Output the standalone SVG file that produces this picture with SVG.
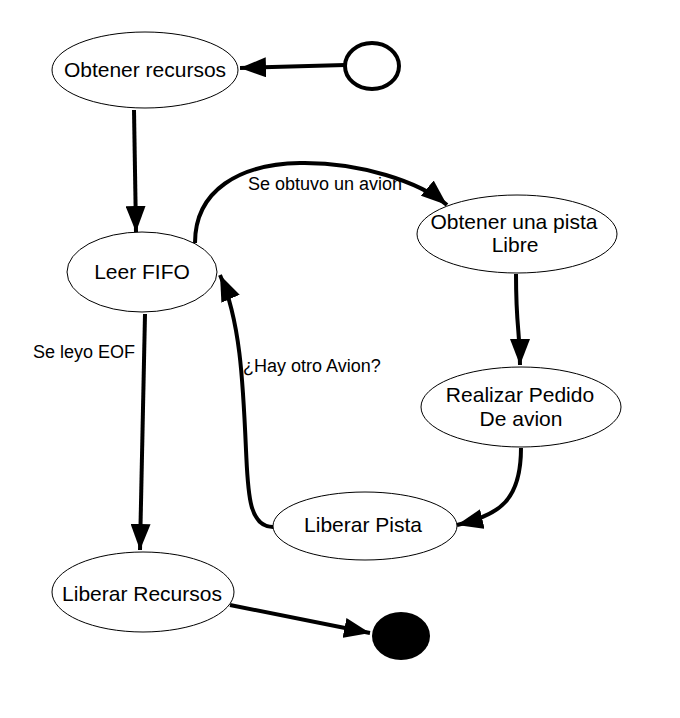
<svg xmlns="http://www.w3.org/2000/svg" width="680" height="718" viewBox="0 0 680 718">
<defs>
<style>
.node{fill:#fff;stroke:#000;stroke-width:1}
.t{font-family:"Liberation Sans",Arial,sans-serif;font-size:21px;fill:#000;text-anchor:middle}
.lbl{font-family:"Liberation Sans",Arial,sans-serif;font-size:18px;fill:#000}
.edge{fill:none;stroke:#000;stroke-width:4;marker-end:url(#arr)}
</style>
<marker id="arr" viewBox="0 0 26 20" refX="26" refY="10" markerWidth="26" markerHeight="20" markerUnits="userSpaceOnUse" orient="auto">
<path d="M0,0 L26,10 L0,20 z" fill="#000"/>
</marker>
</defs>
<rect width="680" height="718" fill="#fff"/>
<g id="connectors">
<path class="edge" d="M345,65 L240,68"/>
<path class="edge" d="M134,110 L136,232"/>
<path class="edge" d="M195,243 C195,190 240,164 300,163 C360,162 420,182 447,205"/>
<path class="edge" d="M516,274 C516,330 520,330 520,365"/>
<path class="edge" d="M521,448 C521,500 500,515 457,525"/>
<path class="edge" d="M273,527 C248,527 248,490 246,450 C243,380 240,320 220,275"/>
<path class="edge" d="M145,314 L140,550"/>
<path class="edge" d="M230,605 L370,633"/>
<text class="lbl" x="248" y="190">Se obtuvo un avion</text>
<text class="lbl" x="33" y="358">Se leyo EOF</text>
<text class="lbl" x="243" y="372">¿Hay otro Avion?</text>
</g>
<g id="start"><ellipse cx="372" cy="66" rx="27" ry="23" fill="#fff" stroke="#000" stroke-width="4"/></g>
<g id="obtener-recursos"><ellipse class="node" cx="145" cy="70" rx="93" ry="38"/><text class="t" x="145" y="77">Obtener recursos</text></g>
<g id="leer-fifo"><ellipse class="node" cx="142" cy="272" rx="75" ry="40"/><text class="t" x="142" y="279">Leer FIFO</text></g>
<g id="obtener-pista"><ellipse class="node" cx="517" cy="234" rx="100" ry="39"/><text class="t" x="514" y="229">Obtener una pista</text><text class="t" x="515" y="252">Libre</text></g>
<g id="realizar-pedido"><ellipse class="node" cx="521" cy="407" rx="100" ry="40"/><text class="t" x="520" y="402">Realizar Pedido</text><text class="t" x="521" y="426">De avion</text></g>
<g id="liberar-pista"><ellipse class="node" cx="365" cy="526" rx="92" ry="34"/><text class="t" x="363" y="532">Liberar Pista</text></g>
<g id="liberar-recursos"><ellipse class="node" cx="143" cy="592" rx="91" ry="40"/><text class="t" x="142" y="601">Liberar Recursos</text></g>
<g id="end"><ellipse cx="401" cy="636" rx="29" ry="24" fill="#000"/></g>
</svg>
